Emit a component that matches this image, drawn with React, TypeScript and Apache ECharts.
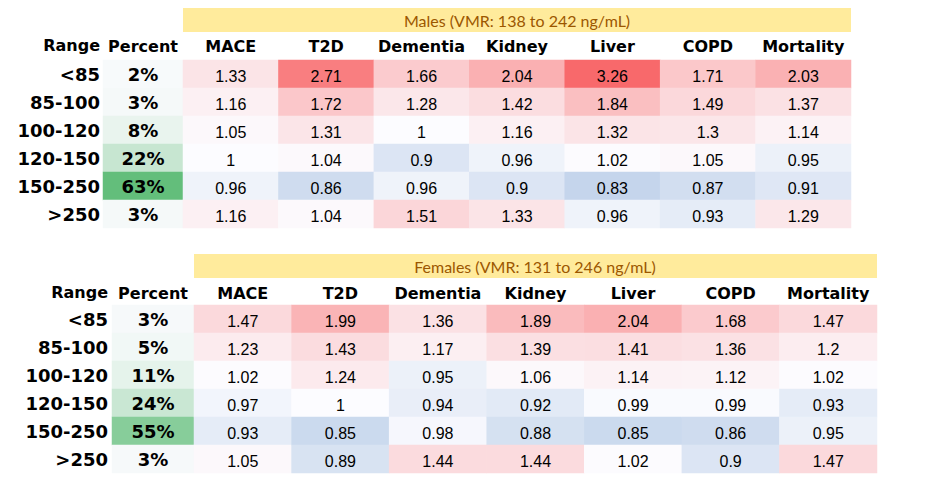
import React, { useEffect, useRef } from "react";
import * as echarts from "echarts";

const COLUMNS = ["MACE", "T2D", "Dementia", "Kidney", "Liver", "COPD", "Mortality"];
const RANGES = ["<85", "85-100", "100-120", "120-150", "150-250", ">250"];

const MALE_TITLE = "Males (VMR: 138 to 242 ng/mL)";
const FEMALE_TITLE = "Females (VMR: 131 to 246 ng/mL)";

const malePercent = [2, 3, 8, 22, 63, 3];
const maleMACE = [1.33, 1.16, 1.05, 1, 0.96, 1.16];
const maleT2D = [2.71, 1.72, 1.31, 1.04, 0.86, 1.04];
const maleDementia = [1.66, 1.28, 1, 0.9, 0.96, 1.51];
const maleKidney = [2.04, 1.42, 1.16, 0.96, 0.9, 1.33];
const maleLiver = [3.26, 1.84, 1.32, 1.02, 0.83, 0.96];
const maleCOPD = [1.71, 1.49, 1.3, 1.05, 0.87, 0.93];
const maleMortality = [2.03, 1.37, 1.14, 0.95, 0.91, 1.29];

const femalePercent = [3, 5, 11, 24, 55, 3];
const femaleMACE = [1.47, 1.23, 1.02, 0.97, 0.93, 1.05];
const femaleT2D = [1.99, 1.43, 1.24, 1, 0.85, 0.89];
const femaleDementia = [1.36, 1.17, 0.95, 0.94, 0.98, 1.44];
const femaleKidney = [1.89, 1.39, 1.06, 0.92, 0.88, 1.44];
const femaleLiver = [2.04, 1.41, 1.14, 0.99, 0.85, 1.02];
const femaleCOPD = [1.68, 1.36, 1.12, 0.99, 0.86, 0.9];
const femaleMortality = [1.47, 1.2, 1.02, 0.93, 0.95, 1.47];

const maleCols = [maleMACE, maleT2D, maleDementia, maleKidney, maleLiver, maleCOPD, maleMortality];
const femaleCols = [femaleMACE, femaleT2D, femaleDementia, femaleKidney, femaleLiver, femaleCOPD, femaleMortality];

const BOLD_FONT = "DejaVu Sans";
const TITLE_FONT = "Lato";
const NUM_FONT = "Liberation Sans";

function buildMatrix(cols: number[][]) {
  const out: number[][] = [];
  cols.forEach((col, xi) => col.forEach((v, yi) => out.push([xi, yi, v])));
  return out;
}
function buildPercent(vals: number[]) {
  return vals.map((v, yi) => [0, yi, v]);
}

export default function App() {
  const ref = useRef<HTMLDivElement>(null);
  useEffect(() => {
    document.body.style.margin = "0";
    if (!ref.current) return;
    const chart = echarts.init(ref.current, null, { renderer: "svg" });

    const headerLabel = (margin: number, size = 16) => ({
      margin,
      interval: 0,
      fontFamily: BOLD_FONT,
      fontWeight: "bold" as const,
      fontSize: size,
      color: "#000",
    });
    const hidden = {
      axisLine: { show: false },
      axisTick: { show: false },
      splitLine: { show: false },
    };

    const xAxis = [
      { gridIndex: 0, type: "category", position: "top", data: ["Percent"], axisLabel: headerLabel(6), ...hidden },
      { gridIndex: 1, type: "category", position: "top", data: COLUMNS, axisLabel: headerLabel(6), ...hidden },
      { gridIndex: 2, type: "category", position: "top", data: ["Percent"], axisLabel: headerLabel(4), ...hidden },
      { gridIndex: 3, type: "category", position: "top", data: COLUMNS, axisLabel: headerLabel(4), ...hidden },
    ];
    const yAxis = [
      { gridIndex: 0, type: "category", inverse: true, data: RANGES, axisLabel: { ...headerLabel(3, 18), align: "right" }, ...hidden },
      { gridIndex: 1, type: "category", inverse: true, data: RANGES, axisLabel: { show: false }, ...hidden },
      { gridIndex: 2, type: "category", inverse: true, data: RANGES, axisLabel: { ...headerLabel(4, 18), align: "right" }, ...hidden },
      { gridIndex: 3, type: "category", inverse: true, data: RANGES, axisLabel: { show: false }, ...hidden },
    ];

    const pctLabel = {
      show: true,
      fontFamily: BOLD_FONT,
      fontWeight: "bold" as const,
      fontSize: 18,
      color: "#000",
      formatter: (p: any) => p.value[2] + "%",
    };
    const numLabel = {
      show: true,
      fontFamily: NUM_FONT,
      fontSize: 16,
      color: "#000",
      offset: [0, 2],
      formatter: (p: any) => String(p.value[2]),
    };
    const common = {
      type: "heatmap",
      emphasis: { disabled: true },
      itemStyle: { borderWidth: 0 },
    };

    chart.setOption({
      animation: false,
      backgroundColor: "#fff",
      grid: [
        { left: 103, top: 60, width: 80, height: 168 },
        { left: 183, top: 60, width: 668, height: 168 },
        { left: 112, top: 305, width: 82, height: 168 },
        { left: 194, top: 305, width: 683, height: 168 },
      ],
      xAxis,
      yAxis,
      visualMap: [
        {
          type: "continuous", show: false, seriesIndex: [1, 3], dimension: 2,
          min: 0.5, max: 3,
          inRange: { color: ["#5A8AC6", "#FCFCFF", "#FBD7DA", "#FAB3B5", "#F98E90", "#F8696B"] },
        },
        {
          type: "continuous", show: false, seriesIndex: 0, dimension: 2,
          min: 0, max: 63, inRange: { color: ["#FCFCFF", "#63BE7B"] },
        },
        {
          type: "continuous", show: false, seriesIndex: 2, dimension: 2,
          min: 0, max: 72, inRange: { color: ["#FCFCFF", "#63BE7B"] },
        },
      ],
      series: [
        { ...common, xAxisIndex: 0, yAxisIndex: 0, data: buildPercent(malePercent), label: pctLabel },
        { ...common, xAxisIndex: 1, yAxisIndex: 1, data: buildMatrix(maleCols), label: numLabel },
        { ...common, xAxisIndex: 2, yAxisIndex: 2, data: buildPercent(femalePercent), label: pctLabel },
        { ...common, xAxisIndex: 3, yAxisIndex: 3, data: buildMatrix(femaleCols), label: numLabel },
      ],
      graphic: [
        { type: "rect", shape: { x: 183, y: 8, width: 668, height: 24 }, style: { fill: "#FFEB9C" } },
        {
          type: "text", x: 517, y: 20,
          style: { text: MALE_TITLE, fill: "#9C5700", font: `16px ${TITLE_FONT}`, align: "center", verticalAlign: "middle" },
        },
        { type: "rect", shape: { x: 194, y: 254, width: 683, height: 24 }, style: { fill: "#FFEB9C" } },
        {
          type: "text", x: 535, y: 266,
          style: { text: FEMALE_TITLE, fill: "#9C5700", font: `16px ${TITLE_FONT}`, align: "center", verticalAlign: "middle" },
        },
        {
          type: "text", x: 100, y: 45,
          style: { text: "Range", fill: "#000", font: `bold 16px ${BOLD_FONT}`, align: "right", verticalAlign: "middle" },
        },
        {
          type: "text", x: 108, y: 292,
          style: { text: "Range", fill: "#000", font: `bold 16px ${BOLD_FONT}`, align: "right", verticalAlign: "middle" },
        },
      ],
    });
    return () => chart.dispose();
  }, []);
  return <div ref={ref} style={{ width: 932, height: 479 }} />;
}
